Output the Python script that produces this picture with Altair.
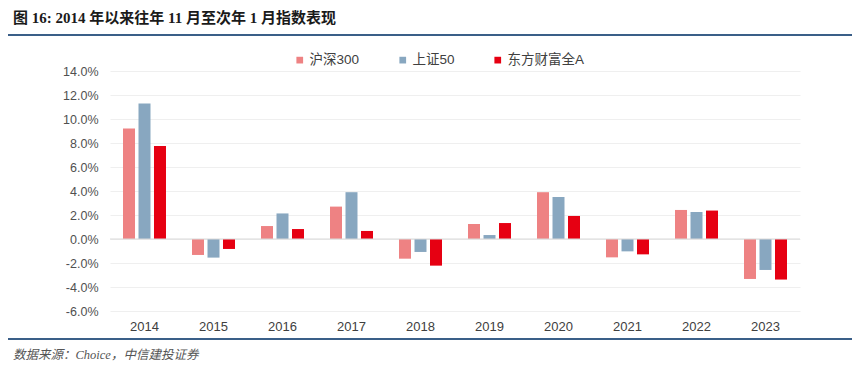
import altair as alt
import pandas as pd

years = ["2014", "2015", "2016", "2017", "2018", "2019", "2020", "2021", "2022", "2023"]
series_names = ["沪深300", "上证50", "东方财富全A"]
hs300 = [9.2, -1.33, 1.08, 2.7, -1.64, 1.25, 3.9, -1.53, 2.42, -3.33]
sz50 = [11.3, -1.55, 2.13, 3.9, -1.08, 0.33, 3.5, -1.03, 2.25, -2.58]
dcqa = [7.75, -0.83, 0.83, 0.67, -2.22, 1.33, 1.92, -1.28, 2.37, -3.38]
y_ticks = [-6, -4, -2, 0, 2, 4, 6, 8, 10, 12, 14]
colors = ["#EE8283", "#88A7C0", "#E60012"]

rows = []
for name, vals in zip(series_names, [hs300, sz50, dcqa]):
    for y, v in zip(years, vals):
        rows.append({"year": y, "series": name, "value": v})
df = pd.DataFrame(rows)

W, H = 690, 240
font = "Liberation Sans, Arial, Noto Sans CJK SC, sans-serif"

yscale = alt.Scale(domain=[-6, 14], nice=False, zero=False)
yaxis = alt.Axis(title=None, values=y_ticks,
                 labelExpr="(datum.value < 0 ? '-' : '') + format(abs(datum.value), '.1f') + '%'",
                 labelOverlap=False, labelBound=False,
                 ticks=False, domain=False, labelPadding=12,
                 labelFontSize=12.5, labelColor="#505050", labelFont=font,
                 gridColor="#EFEFEF", gridWidth=1)

bars = alt.Chart(df).mark_bar(size=12).encode(
    x=alt.X("year:N", sort=years,
            scale=alt.Scale(paddingInner=0, paddingOuter=0),
            axis=alt.Axis(title=None, labelAngle=0, ticks=False, domain=False,
                          labelPadding=9, labelFontSize=13, labelColor="#404040",
                          labelFont=font)),
    xOffset=alt.XOffset("series:N", sort=series_names,
                        scale=alt.Scale(paddingInner=0.226, paddingOuter=0.84)),
    y=alt.Y("value:Q", scale=yscale, axis=yaxis),
    color=alt.Color("series:N", sort=series_names,
                    scale=alt.Scale(domain=series_names, range=colors),
                    legend=alt.Legend(title=None, orient="none", legendX=183, legendY=-18,
                                      direction="horizontal", symbolType="square",
                                      symbolSize=45, symbolStrokeWidth=0,
                                      labelFontSize=13.5, labelColor="#404040",
                                      labelFont=font, gridAlign="each",
                                      columnPadding=36, labelOffset=3)),
)

zero = alt.Chart(pd.DataFrame({"v": [0.0]})).mark_rule(color="#D9D9D9", strokeWidth=1.2).encode(
    y=alt.Y("v:Q", scale=yscale, axis=yaxis)
)

title = alt.Chart(pd.DataFrame({"t": ["图 16: 2014 年以来往年 11 月至次年 1 月指数表现"]})).mark_text(
    align="left", baseline="middle", fontSize=15, fontWeight="bold",
    font="Liberation Serif, Noto Sans CJK SC, serif", color="#1A1A1A"
).encode(text="t:N", x=alt.value(-97), y=alt.value(-53))

source = alt.Chart(pd.DataFrame({"t": ["数据来源：Choice，中信建投证券"]})).mark_text(
    align="left", baseline="middle", fontSize=12.5, fontStyle="italic",
    font="Liberation Serif, Noto Sans CJK SC, serif", color="#555555"
).encode(text="t:N", x=alt.value(-97), y=alt.value(284))

line_top = alt.Chart(pd.DataFrame({"a": [0]})).mark_rule(color="#3A5F88", strokeWidth=2).encode(
    x=alt.value(-107), x2=alt.value(742), y=alt.value(-36)
)
line_bot = alt.Chart(pd.DataFrame({"a": [0]})).mark_rule(color="#3A5F88", strokeWidth=2).encode(
    x=alt.value(-107), x2=alt.value(742), y=alt.value(268)
)

chart = alt.layer(bars, zero, title, source, line_top, line_bot).properties(
    width=W, height=H,
    autosize=alt.AutoSizeParams(type="none"),
    padding={"left": 102, "top": 63, "right": 57, "bottom": 62},
    background="white",
).configure_view(stroke=None)

chart.save("out.html", embed_options={"renderer": "svg", "actions": False})
